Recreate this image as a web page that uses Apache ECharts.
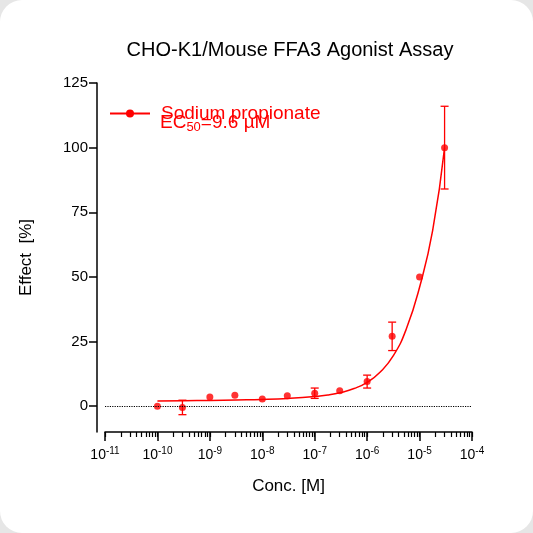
<!DOCTYPE html>
<html><head><meta charset="utf-8">
<script src="https://cdn.jsdelivr.net/npm/echarts@6/dist/echarts.min.js"></script>
<style>html,body{margin:0;padding:0;background:#e6e6e6;}#c{width:533px;height:533px;background:#fff;border-radius:22px;overflow:hidden;}</style>
</head><body><div id="c"></div>
<script>
const concLog = [-10, -9.523, -9, -8.523, -8, -7.523, -7, -6.523, -6, -5.523, -5, -4.523];
const effect  = [0, -0.5, 3.5, 4.2, 2.8, 4, 5, 6, 9.5, 27, 50, 100];
const errs    = [0, 2.8, 0, 0, 0, 0, 2, 0, 2.5, 5.5, 0, 16];
const curveLog = [-10, -9.5, -9, -8.5, -8, -7.5, -7, -6.75, -6.5, -6.25, -6, -5.75, -5.5, -5.25, -5, -4.75, -4.523];
const curveY   = [2, 2.1, 2.2, 2.4, 2.6, 3, 3.7, 4.3, 5.3, 6.8, 9.2, 13.2, 19.5, 30, 46, 68, 100];
const majorTicks = [-11, -10, -9, -8, -7, -6, -5, -4];
const yTicks = [0, 25, 50, 75, 100, 125];
const minorTicks = [];
for (let d = -11; d < -4; d++) for (let k = 1; k <= 9; k++) minorTicks.push(d + Math.log10(k));
minorTicks.push(-4);
const red = '#f00';
const F = 'Liberation Sans';
const chart = echarts.init(document.getElementById('c'));
const xBase = {type:'value', min:-11, max:-4, position:'bottom'};
chart.setOption({
  animation:false,
  title:{text:'CHO-K1/Mouse FFA3 Agonist Assay', left:285, textAlign:'center', top:35,
    textStyle:{fontSize:20, fontWeight:'normal', color:'#000', fontFamily:F}},
  grid:{left:105, right:61, top:83, bottom:101},
  xAxis:[
    Object.assign({}, xBase, {axisLine:{onZero:false, lineStyle:{color:'#000', width:1.5}},
      axisTick:{show:true, length:5, customValues:minorTicks, lineStyle:{color:'#000', width:1.2}},
      axisLabel:{show:false}, splitLine:{show:false}}),
    Object.assign({}, xBase, {axisLine:{show:false, onZero:false},
      axisTick:{show:true, length:9, customValues:majorTicks, lineStyle:{color:'#000', width:1.5}},
      axisLabel:{customValues:majorTicks, margin:14, formatter:v=>'{b|10}{s|'+v+'}',
        rich:{b:{fontSize:14, color:'#000', fontFamily:F},
              s:{fontSize:10, color:'#000', fontFamily:F, verticalAlign:'top', padding:[0,0,9,0]}}},
      name:'Conc. [M]', nameLocation:'middle', nameGap:46,
      nameTextStyle:{fontSize:17, color:'#000', fontFamily:F}, splitLine:{show:false}})
  ],
  yAxis:{type:'value', min:-10, max:125, offset:8,
    axisLine:{show:true, lineStyle:{color:'#000', width:1.5}},
    axisTick:{show:true, length:8, customValues:yTicks, lineStyle:{color:'#000', width:1.5}},
    axisLabel:{customValues:yTicks, fontSize:15, color:'#000', fontFamily:F, margin:9},
    splitLine:{show:false},
    name:'Effect  [%]', nameLocation:'middle', nameGap:62,
    nameTextStyle:{fontSize:17, color:'#000', fontFamily:F}},
  legend:{left:104, top:99, itemWidth:40, itemHeight:10, itemGap:10, data:['Sodium propionate'],
    textStyle:{fontSize:19, color:red, fontFamily:F, padding:[0,0,0,6]}},
  graphic:[{type:'text', left:160, top:113, style:{
    text:'{a|EC}{s|50}{a|=9.6 µM}',
    rich:{a:{fontSize:19, fill:red, fontFamily:F},
          s:{fontSize:13, fill:red, fontFamily:F, padding:[9,0,0,0]}}}}],
  series:[
    {name:'Sodium propionate', type:'line', xAxisIndex:0, data:curveLog.map((x,i)=>[x,curveY[i]]),
      smooth:true, showSymbol:false, symbol:'circle', symbolSize:7,
      lineStyle:{color:red, width:1.5}, itemStyle:{color:red},
      markLine:{silent:true, symbol:'none', label:{show:false},
        lineStyle:{color:'#000', type:'dotted', width:1.2}, data:[{yAxis:0}]}},
    {type:'scatter', xAxisIndex:0, data:concLog.map((x,i)=>[x,effect[i]]), symbolSize:7, itemStyle:{color:red}},
    {type:'custom', xAxisIndex:0, data:concLog.map((x,i)=>[x,effect[i],errs[i]]),
      renderItem:(p,api)=>{
        const x=api.value(0), y=api.value(1), e=api.value(2);
        if(!e) return null;
        const t=api.coord([x,y+e]), b=api.coord([x,y-e]);
        const st={stroke:red, lineWidth:1.3};
        return {type:'group', children:[
          {type:'line', shape:{x1:t[0],y1:t[1],x2:b[0],y2:b[1]}, style:st},
          {type:'line', shape:{x1:t[0]-4,y1:t[1],x2:t[0]+4,y2:t[1]}, style:st},
          {type:'line', shape:{x1:b[0]-4,y1:b[1],x2:b[0]+4,y2:b[1]}, style:st}]};
      }}
  ]
});
</script></body></html>
